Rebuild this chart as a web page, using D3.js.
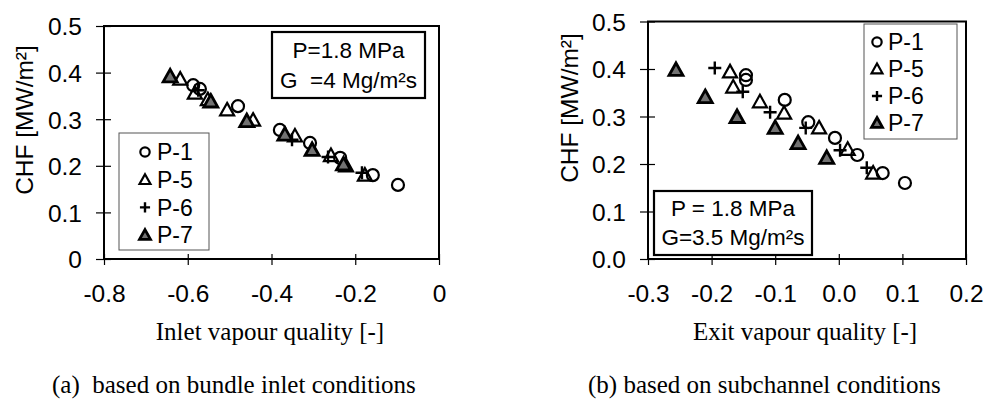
<!DOCTYPE html>
<html><head><meta charset="utf-8">
<script src="https://cdn.jsdelivr.net/npm/d3@7"></script>
<style>
body{margin:0;background:#fff;}
svg{display:block;}
.sans{font-family:"Liberation Sans",Arial,sans-serif;}
.serif{font-family:"Liberation Serif","Times New Roman",serif;}
</style></head>
<body>
<svg id="c" width="985" height="408"></svg>
<script>
// ---- Data: panel (a) inlet quality ----
const aP1 = [[-0.587,0.373],[-0.571,0.365],[-0.480,0.328],[-0.380,0.277],[-0.308,0.249],[-0.236,0.217],[-0.158,0.180],[-0.098,0.159]];
const aP5 = [[-0.618,0.386],[-0.583,0.356],[-0.552,0.342],[-0.506,0.320],[-0.444,0.298],[-0.344,0.264],[-0.258,0.222],[-0.222,0.200],[-0.177,0.180]];
const aP6 = [[-0.575,0.362],[-0.351,0.256],[-0.265,0.219],[-0.184,0.185]];
const aP7 = [[-0.642,0.392],[-0.545,0.338],[-0.459,0.296],[-0.368,0.267],[-0.303,0.234],[-0.228,0.203]];
// ---- Data: panel (b) exit quality ----
const bP1 = [[-0.146,0.387],[-0.146,0.377],[-0.085,0.335],[-0.048,0.288],[-0.006,0.255],[0.029,0.219],[0.069,0.181],[0.104,0.160]];
const bP5 = [[-0.171,0.394],[-0.166,0.362],[-0.124,0.331],[-0.086,0.307],[-0.031,0.276],[0.014,0.231],[0.054,0.181]];
const bP6 = [[-0.195,0.402],[-0.151,0.352],[-0.108,0.309],[-0.052,0.276],[0.002,0.229],[0.044,0.192]];
const bP7 = [[-0.256,0.398],[-0.210,0.341],[-0.160,0.299],[-0.100,0.276],[-0.064,0.244],[-0.019,0.213]];

const seriesNames = ["P-1","P-5","P-6","P-7"];
const aYTicks = [0,0.1,0.2,0.3,0.4,0.5];
const aYLabels = ["0","0.1","0.2","0.3","0.4","0.5"];
const aXTicks = [-0.8,-0.6,-0.4,-0.2,0];
const aXLabels = ["-0.8","-0.6","-0.4","-0.2","0"];
const bYTicks = [0,0.1,0.2,0.3,0.4,0.5];
const bYLabels = ["0.0","0.1","0.2","0.3","0.4","0.5"];
const bXTicks = [-0.3,-0.2,-0.1,0,0.1,0.2];
const bXLabels = ["-0.3","-0.2","-0.1","0.0","0.1","0.2"];

const svg = d3.select("#c");
svg.append("rect").attr("width",985).attr("height",408).attr("fill","#fff");

function marker(g, type, x, y, s){
  s = s || 1;
  if(type==="P-1"){
    g.append("circle").attr("cx",x).attr("cy",y).attr("r",6*s)
      .attr("fill","none").attr("stroke","#000").attr("stroke-width",2.2);
  } else if(type==="P-5" || type==="P-7"){
    const p = `M${x},${y-7*s}L${x+7*s},${y+5.5*s}L${x-7*s},${y+5.5*s}Z`;
    g.append("path").attr("d",p)
      .attr("fill", type==="P-7" ? "#727272" : "none")
      .attr("stroke","#000").attr("stroke-width", type==="P-7" ? 2.8 : 2.2)
      .attr("stroke-linejoin","miter");
  } else {
    const p = `M${x-6.5*s},${y}H${x+6.5*s}M${x},${y-6.5*s}V${y+6.5*s}`;
    g.append("path").attr("d",p).attr("fill","none").attr("stroke","#000").attr("stroke-width",2.4);
  }
}

function panel(cfg){
  const g = svg.append("g");
  const x = d3.scaleLinear().domain(cfg.xDom).range([cfg.L, cfg.R]);
  const y = d3.scaleLinear().domain([0,0.5]).range([cfg.B, cfg.T]);
  g.append("rect").attr("x",cfg.L).attr("y",cfg.T).attr("width",cfg.R-cfg.L).attr("height",cfg.B-cfg.T)
    .attr("fill","none").attr("stroke","#000").attr("stroke-width",2);
  const ya = d3.axisLeft(y).tickValues(cfg.yTicks).tickFormat((d,i)=>cfg.yLabels[i]).tickSizeInner(8).tickSizeOuter(0).tickPadding(14);
  const yg = g.append("g").attr("transform",`translate(${cfg.L},0)`).call(ya);
  yg.select(".domain").remove();
  yg.selectAll(".tick line").attr("x2",-8).attr("x1",7).attr("stroke","#000").attr("stroke-width",1.2);
  yg.selectAll("text").attr("class","sans").attr("font-size",24.5).attr("fill","#000").attr("dy","0.36em");
  const xa = d3.axisBottom(x).tickValues(cfg.xTicks).tickFormat((d,i)=>cfg.xLabels[i]).tickSizeInner(6).tickSizeOuter(0).tickPadding(20);
  const xg = g.append("g").attr("transform",`translate(0,${cfg.B})`).call(xa);
  xg.select(".domain").remove();
  xg.selectAll(".tick line").attr("y1",-5).attr("y2",6).attr("stroke","#000").attr("stroke-width",1.2);
  xg.selectAll("text").attr("class","sans").attr("font-size",24.5).attr("fill","#000");
  const sets = cfg.data;
  seriesNames.forEach((n,i)=>{
    sets[i].forEach(d=>marker(g,n,x(d[0]),y(d[1])));
  });
  const lg = cfg.leg;
  g.append("rect").attr("x",lg.x).attr("y",lg.y).attr("width",lg.w).attr("height",lg.h)
    .attr("fill","#fff").attr("stroke","#555").attr("stroke-width",1);
  seriesNames.forEach((n,i)=>{
    const yy = lg.y0 + i*lg.dy;
    marker(g,n,lg.mx,yy,0.78);
    g.append("text").attr("class","sans").attr("x",lg.tx).attr("y",yy).attr("dy","0.36em")
      .attr("font-size",23).text(n);
  });
  const ib = cfg.info;
  g.append("rect").attr("x",ib.x).attr("y",ib.y).attr("width",ib.w).attr("height",ib.h)
    .attr("fill","#fff").attr("stroke","#000").attr("stroke-width",2.2);
  ib.lines.forEach((t,i)=>{
    g.append("text").attr("class","sans").attr("x",ib.x+ib.w/2).attr("y",ib.ly[i]).attr("dy","0.36em")
      .attr("text-anchor","middle").attr("font-size",22.5).style("white-space","pre").text(t);
  });
  g.append("text").attr("class","sans").attr("transform",`translate(${cfg.ytX},${cfg.ytY}) rotate(-90)`)
    .attr("text-anchor","middle").attr("font-size",24.5).text("CHF [MW/m²]");
  g.append("text").attr("class","serif").attr("x",cfg.xtX).attr("y",340)
    .attr("text-anchor","middle").attr("font-size",25).text(cfg.xTitle);
  g.append("text").attr("class","serif").attr("x",cfg.capX).attr("y",393)
    .attr("font-size",25).style("white-space","pre").text(cfg.caption);
}

panel({
  L:104, R:439, T:26, B:259, xDom:[-0.8,0],
  yTicks:aYTicks, yLabels:aYLabels, xTicks:aXTicks, xLabels:aXLabels,
  data:[aP1,aP5,aP6,aP7],
  leg:{x:119,y:133,w:90,h:117,y0:152,dy:27.7,mx:145,tx:157},
  info:{x:272,y:32,w:153,h:66,lines:["P=1.8 MPa","G  =4 Mg/m²s"],ly:[50,80]},
  ytX:33, ytY:120, xtX:270, xTitle:"Inlet vapour quality [-]",
  capX:52, caption:"(a)  based on bundle inlet conditions"
});
panel({
  L:648, R:966, T:21.5, B:259, xDom:[-0.3,0.2],
  yTicks:bYTicks, yLabels:bYLabels, xTicks:bXTicks, xLabels:bXLabels,
  data:[bP1,bP5,bP6,bP7],
  leg:{x:864,y:24,w:93,h:115,y0:42,dy:27,mx:877,tx:888},
  info:{x:654,y:191,w:158,h:64,lines:["P = 1.8 MPa","G=3.5 Mg/m²s"],ly:[208,237]},
  ytX:578, ytY:108, xtX:805, xTitle:"Exit vapour quality [-]",
  capX:588, caption:"(b) based on subchannel conditions"
});
</script>
</body></html>
